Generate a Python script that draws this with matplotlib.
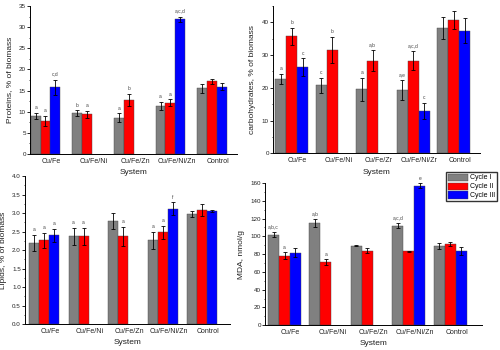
import matplotlib
matplotlib.use("Agg")
from matplotlib import pyplot as plt
from matplotlib.ticker import MultipleLocator, AutoMinorLocator
import numpy as np

plt.rcParams['font.family'] = ['Liberation Sans', 'DejaVu Sans']

# categories
systems_zn = ["Cu/Fe", "Cu/Fe/Ni", "Cu/Fe/Zn", "Cu/Fe/Ni/Zn", "Control"]
systems_zr = ["Cu/Fe", "Cu/Fe/Ni", "Cu/Fe/Zr", "Cu/Fe/Ni/Zr", "Control"]
cycles = ["Cycle I", "Cycle II", "Cycle III"]

# proteins, % of biomass  (nan = no bar)
prot_c1 = [9.0, 9.7, 8.6, 11.4, 15.5]
prot_c2 = [7.9, 9.4, 12.8, 12.1, 17.2]
prot_c3 = [15.8, np.nan, np.nan, 31.9, 15.9]
prot_e1 = [0.8, 0.6, 1.0, 0.9, 1.0]
prot_e2 = [1.2, 0.8, 1.5, 0.8, 0.6]
prot_e3 = [1.8, 0, 0, 0.6, 0.8]
prot_l1 = ["a", "b", "a", "a", ""]
prot_l2 = ["a", "a", "b", "a", ""]
prot_l3 = ["c,d", "", "", "a,c,d", ""]

# carbohydrates, % of biomass
carb_c1 = [22.7, 20.8, 19.5, 19.3, 38.2]
carb_c2 = [35.8, 31.5, 28.3, 28.3, 40.7]
carb_c3 = [26.3, np.nan, np.nan, 12.9, 37.4]
carb_e1 = [1.5, 2.3, 3.5, 3.0, 3.3]
carb_e2 = [2.6, 4.0, 3.3, 3.0, 2.7]
carb_e3 = [2.7, 0, 0, 2.4, 3.8]
carb_l1 = ["a", "c", "a", "a,e", ""]
carb_l2 = ["b", "b", "a,b", "a,c,d", ""]
carb_l3 = ["c", "", "", "c", ""]

# lipids, % of biomass
lip_c1 = [2.20, 2.37, 2.78, 2.26, 2.97]
lip_c2 = [2.26, 2.37, 2.37, 2.48, 3.08]
lip_c3 = [2.40, np.nan, np.nan, 3.12, 3.05]
lip_e1 = [0.22, 0.22, 0.22, 0.24, 0.08]
lip_e2 = [0.20, 0.22, 0.25, 0.18, 0.17]
lip_e3 = [0.18, 0, 0, 0.17, 0.02]
lip_l1 = ["a", "a", "", "a", ""]
lip_l2 = ["a", "a", "a", "a", ""]
lip_l3 = ["a", "", "", "f", ""]

# MDA, nmol/g
mda_c1 = [102, 115, 89.5, 112, 89]
mda_c2 = [78, 71, 84, 83, 91.5]
mda_c3 = [81.5, np.nan, np.nan, 157, 83]
mda_e1 = [3, 4.5, 0.5, 3, 3.5]
mda_e2 = [4, 3, 2.5, 0.5, 2.5]
mda_e3 = [5, 0, 0, 2.5, 4.5]
mda_l1 = ["a,b,c", "a,b", "", "a,c,d", ""]
mda_l2 = ["a", "a", "", "", ""]
mda_l3 = ["", "", "", "e", ""]

colors = ["#808080", "#ff0000", "#0000ff"]
txt = "#222222"

fig = plt.figure(figsize=(5, 3.5), dpi=100)


def panel(rect, cats, vals, errs, labs, ylabel, ylim, ystep, xlim, width):
    ax = fig.add_axes(rect)
    x = np.arange(len(cats))
    for k in range(3):
        v = np.array(vals[k], dtype=float)
        e = np.array(errs[k], dtype=float)
        pos = x + (k - 1) * width
        ok = ~np.isnan(v)
        ax.bar(pos[ok], v[ok], width, color=colors[k], edgecolor="#444444",
               linewidth=0.3, label=cycles[k])
        ax.errorbar(pos[ok], v[ok], yerr=e[ok], fmt="none", ecolor="black",
                    elinewidth=0.6, capsize=1.5, capthick=0.6)
        for p, val, er, t in zip(pos, v, e, labs[k]):
            if t and not np.isnan(val):
                ax.annotate(t, (p, val + er), xytext=(0, 2), textcoords="offset points",
                            ha="center", va="bottom", fontsize=3.5, color="#444444")
    ax.set_xlim(*xlim)
    ax.set_ylim(*ylim)
    ax.set_xticks(x + 0.15)
    ax.set_xticklabels(cats, fontsize=5, color=txt)
    ax.yaxis.set_major_locator(MultipleLocator(ystep))
    ax.yaxis.set_minor_locator(AutoMinorLocator(2))
    ax.tick_params(axis="y", labelsize=4.5, labelcolor=txt, length=2, width=0.6, pad=1)
    ax.tick_params(axis="y", which="minor", length=1, width=0.5)
    ax.tick_params(axis="x", length=0, pad=3)
    for s in ["top", "right"]:
        ax.spines[s].set_visible(False)
    for s in ["left", "bottom"]:
        ax.spines[s].set_linewidth(0.7)
    ax.set_xlabel("System", fontsize=6, labelpad=3, color=txt)
    ax.set_ylabel(ylabel, fontsize=6, labelpad=4, color=txt)
    return ax


panel([0.06, 0.56, 0.414, 0.423], systems_zn,
      [prot_c1, prot_c2, prot_c3], [prot_e1, prot_e2, prot_e3], [prot_l1, prot_l2, prot_l3],
      "Proteins, % of biomass", (0, 35), 5, (-0.37, 4.6), 0.234)

ax_tr = panel([0.546, 0.562, 0.414, 0.421], systems_zr,
              [carb_c1, carb_c2, carb_c3], [carb_e1, carb_e2, carb_e3], [carb_l1, carb_l2, carb_l3],
              "carbohydrates, % of biomass", (0, 45), 10, (-0.46, 4.65), 0.27)

panel([0.05, 0.074, 0.41, 0.423], systems_zn,
      [lip_c1, lip_c2, lip_c3], [lip_e1, lip_e2, lip_e3], [lip_l1, lip_l2, lip_l3],
      "Lipids, % of biomass", (0, 4.0), 0.5, (-0.48, 4.7), 0.253)

ax_br = panel([0.53, 0.071, 0.434, 0.406], systems_zn,
              [mda_c1, mda_c2, mda_c3], [mda_e1, mda_e2, mda_e3], [mda_l1, mda_l2, mda_l3],
              "MDA, nmol/g", (0, 160), 20, (-0.47, 4.76), 0.265)

ax_br.legend(loc="upper right", bbox_to_anchor=(0.995, 0.51), bbox_transform=fig.transFigure,
             fontsize=5, frameon=True, fancybox=False, edgecolor="black",
             handlelength=2.8, handleheight=1.2, borderpad=0.3, labelspacing=0.15,
             handletextpad=0.4, borderaxespad=0)

fig.savefig("out.png", dpi=100)
